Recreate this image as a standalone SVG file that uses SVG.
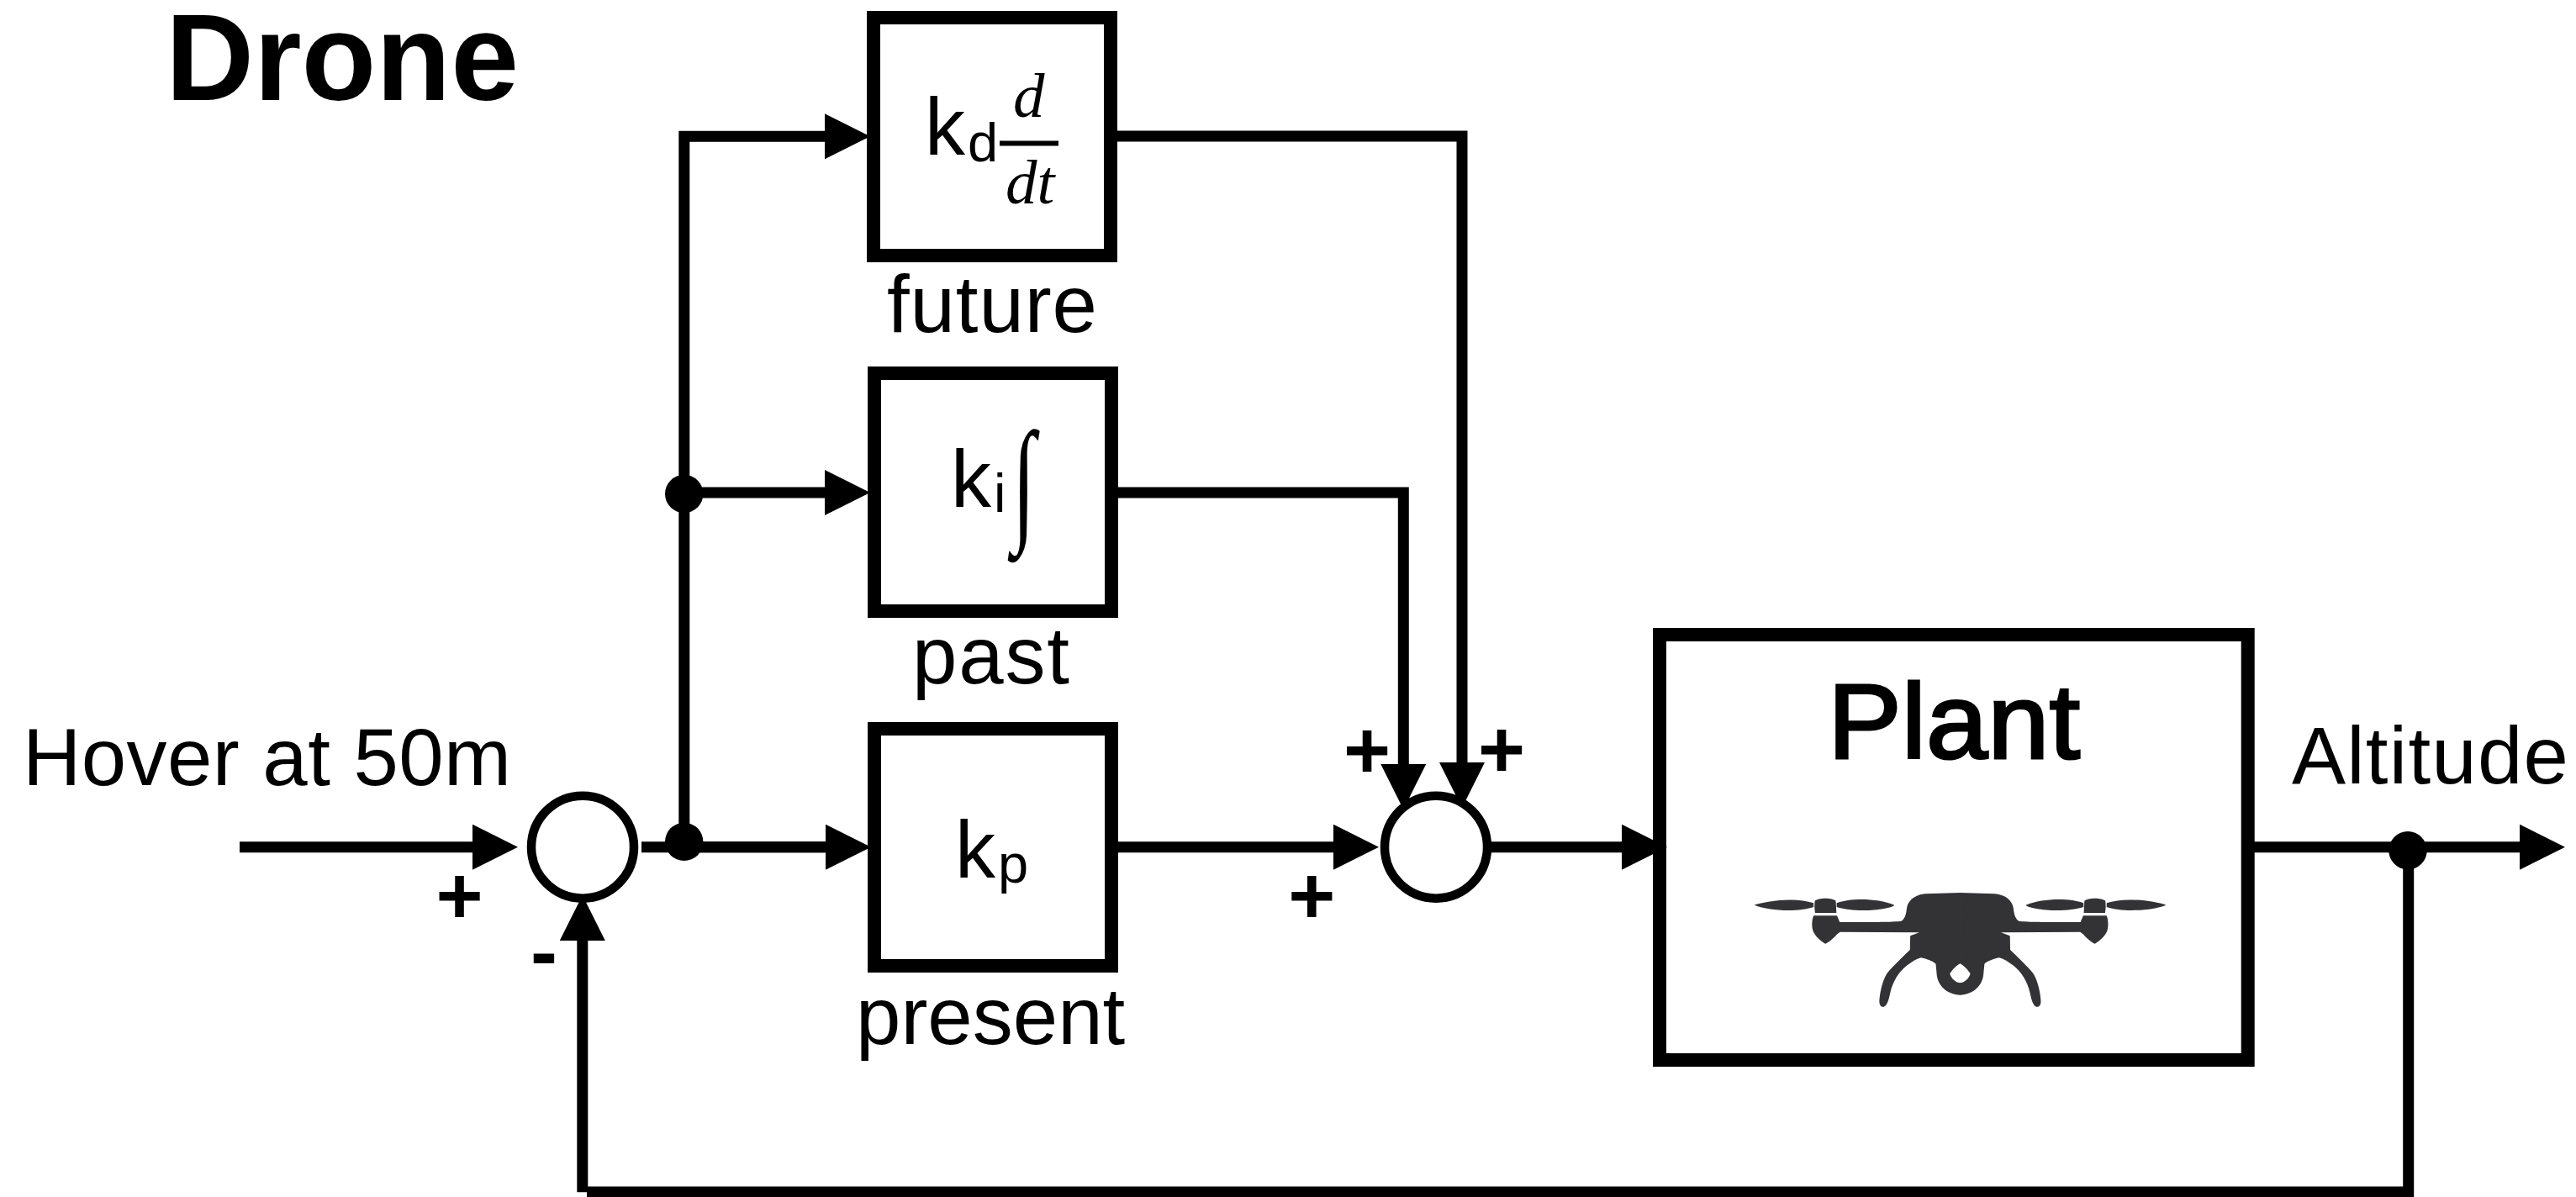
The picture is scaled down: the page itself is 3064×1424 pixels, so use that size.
<svg xmlns="http://www.w3.org/2000/svg" width="3064" height="1424" viewBox="0 0 3064 1424">
<style>
text{font-family:"Liberation Sans",Arial,sans-serif;fill:#000}
.box{fill:#fff;stroke:#000;stroke-width:16}
.sum{fill:#fff;stroke:#000;stroke-width:10.5}
.wire{fill:none;stroke:#000;stroke-width:13;stroke-linecap:butt;stroke-linejoin:miter}
.arrow{marker-end:url(#head)}
.dot{fill:#000}
.lbl{font-size:96px}
.sub{font-size:65px}
.sign{font-size:96px;font-weight:700;text-anchor:middle}
.math{font-family:"Liberation Serif","Times New Roman",serif;font-style:italic;font-size:75px}
.icon{fill:#333335}
</style>
<defs>
<marker id="head" viewBox="0 0 54 54" refX="0" refY="27" markerWidth="54" markerHeight="54" markerUnits="userSpaceOnUse" orient="auto">
<path d="M0,0L54,27L0,54Z" fill="#000"/>
</marker>
<g id="drone-half">
<path d="M130,140C170,125 270,110 328,133L328,147C270,168 170,158 130,140Z"/>
<path d="M405,133C450,115 540,115 597,140C590,155 470,170 405,147Z"/>
<path d="M332,125C345,113 390,113 402,125L404,168L333,168L331,148Z"/>
<path d="M328,178L406,178L416,203L416,236L405,245C395,258 380,272 367,278C350,268 335,252 327,235C321,218 322,195 328,178Z"/>
<path d="M817,96L700,100C665,103 640,125 638,155C636,175 630,192 620,197C600,201 500,201 414,201L414,236L680,238L650,250L649,300C625,325 590,360 572,385C555,415 548,460 547,485C548,500 555,505 562,503C575,498 580,470 584,450C592,415 610,380 640,355C655,343 670,333 685,328C700,330 725,340 735,350L738,385C740,425 770,460 817,461L817,418C800,418 785,400 782,385C790,370 805,355 817,348Z"/>
</g>
</defs>
<rect width="3064" height="1424" fill="#fff"/>

<text id="title" x="197" y="119" textLength="420" lengthAdjust="spacingAndGlyphs" style="font-size:147px;font-weight:700">Drone</text>
<text id="input-label" class="lbl" x="27" y="934" textLength="581">Hover at 50m</text>
<text id="output-label" class="lbl" x="2726" y="932" textLength="329">Altitude</text>

<g id="box-kd">
<rect class="box" x="1039" y="21" width="282" height="283"/>
<text class="lbl" x="1100" y="184">k</text>
<text class="sub" x="1151" y="191.5">d</text>
<text class="math" x="1205" y="139">d</text>
<rect x="1189" y="167.5" width="70" height="6"/>
<text class="math" x="1196" y="241.5">dt</text>
<text class="lbl" x="1055" y="395" textLength="250">future</text>
</g>
<g id="box-ki">
<rect class="box" x="1040" y="444" width="282" height="283"/>
<text class="lbl" x="1131" y="602.5">k</text>
<text class="sub" x="1182" y="609">i</text>
<text transform="translate(1204,626) scale(.62,1)" style="font-family:'Liberation Serif',serif;font-size:162px">∫</text>
<text class="lbl" x="1085" y="813" textLength="187">past</text>
</g>
<g id="box-kp">
<rect class="box" x="1040" y="867" width="282" height="282"/>
<text class="lbl" x="1136" y="1043.5">k</text>
<text class="sub" x="1187" y="1050">p</text>
<text class="lbl" x="1018" y="1241.5">present</text>
</g>
<g id="plant">
<rect class="box" x="1974" y="755" width="699.7" height="506"/>
<text x="2174" y="902" textLength="300" lengthAdjust="spacingAndGlyphs" style="font-size:126px;stroke:#000;stroke-width:3">Plant</text>
<g class="icon" transform="translate(2040,1030) scale(.35714,.33333)">
<use href="#drone-half"/>
<use href="#drone-half" transform="translate(1632,0) scale(-1,1)"/>
</g>
</g>

<g id="connectors">
<path class="wire arrow" d="M285,1007.7H562"/>
<path class="wire" d="M763,1007.7H982"/>
<path class="wire arrow" d="M813.8,1007.7H982"/>
<path class="wire arrow" d="M813.8,1007.7V162.3H981"/>
<path class="wire arrow" d="M813.8,586H981"/>
<path class="wire arrow" d="M1329,1007.7H1586"/>
<path class="wire arrow" d="M1329,162H1739V907"/>
<path class="wire arrow" d="M1322,586H1669.3V909"/>
<path class="wire arrow" d="M1770,1007.7H1929"/>
<path class="wire arrow" d="M2680,1007.7H2997"/>
<path class="wire" d="M2864.7,1012V1424"/>
<path class="wire" d="M2864.7,1418H698"/>
<path class="wire arrow" d="M692.8,1418.3V1119"/>
</g>

<g id="junction-1"><circle class="dot" cx="813.7" cy="1001.4" r="22.7"/></g>
<g id="junction-2"><circle class="dot" cx="813.7" cy="587.5" r="22.7"/></g>
<g id="junction-3"><circle class="dot" cx="2864" cy="1011.7" r="22.7"/></g>

<g id="sum-1">
<circle class="sum" cx="693" cy="1007.7" r="61"/>
<text class="sign" x="546.5" y="1099">+</text>
<text class="sign" x="647" y="1165">-</text>
</g>
<g id="sum-2">
<circle class="sum" cx="1708" cy="1007.7" r="61"/>
<text class="sign" x="1626" y="926">+</text>
<text class="sign" x="1786" y="925">+</text>
<text class="sign" x="1560.3" y="1099">+</text>
</g>
</svg>
